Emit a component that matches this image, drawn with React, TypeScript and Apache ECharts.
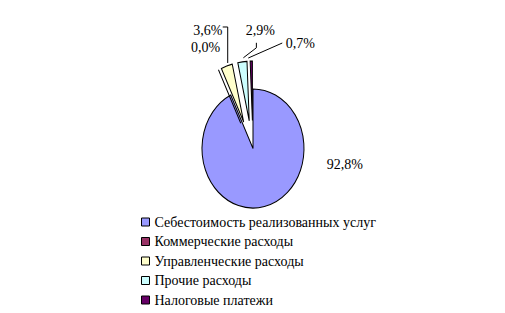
import React, { useEffect, useRef } from "react";
import * as echarts from "echarts";

const categories = [
  "Себестоимость реализованных услуг",
  "Коммерческие расходы",
  "Управленческие расходы",
  "Прочие расходы",
  "Налоговые платежи",
];
const values = [92.8, 0.0, 3.6, 2.9, 0.7];
const colors = ["#9999FF", "#993366", "#FFFFCC", "#CCFFFF", "#660066"];

// layout (not data)
const CX = 253;
const CY = 148.5;
const RX = 51;
const RY = 59.5;
const explode = [0, 28, 28, 28, 28];
const labelOffsets = [
  [80.5, -41.5],
  [-13, -22],
  [-19, -35],
  [18, -31],
  [49, -18],
];
const FAMILY = "Liberation Serif";
const FS = 14;

const fmt = (v: number) => v.toFixed(1).replace(".", ",") + "%";

export default function App() {
  const ref = useRef<HTMLDivElement>(null);
  useEffect(() => {
    if (!ref.current) return;
    const chart = echarts.init(ref.current, undefined, { renderer: "svg" });
    const total = values.reduce((a, b) => a + b, 0);
    const starts: number[] = [];
    let acc = 0;
    values.forEach((v) => {
      starts.push(acc);
      acc += v;
    });
    const toRad = (d: number) => (d * Math.PI) / 180;

    const series = categories.map((name, i) => {
      const a0 = (starts[i] / total) * 360;
      const a1 = ((starts[i] + values[i]) / total) * 360;
      const mid = (a0 + a1) / 2;
      const ex = explode[i] * Math.sin(toRad(mid));
      const ey = -explode[i] * Math.cos(toRad(mid));
      const ox = CX + ex + RX * Math.sin(toRad(mid));
      const oy = CY + ey - RY * Math.cos(toRad(mid));
      const lx = ox + labelOffsets[i][0];
      const ly = oy + labelOffsets[i][1];
      let leader: number[][] | null = null;
      if (i === 2) leader = [[ox + 1, oy - 3], [ox + 1, ly - 4], [lx + 15, ly - 4]];
      if (i === 3) leader = [[ox + 1, oy - 4], [lx - 4, ly + 17], [lx - 4, ly + 12]];
      if (i === 4) leader = [[ox - 3, oy - 3], [lx - 18, ly]];
      return {
        type: "custom",
        name,
        coordinateSystem: "none",
        itemStyle: { color: colors[i], borderColor: "#000", borderWidth: 1 },
        data: [[values[i]]],
        renderItem: () => {
          const children: any[] = [
            {
              type: "sector",
              x: CX + ex,
              y: CY + ey,
              scaleY: RY / RX,
              shape: {
                cx: 0,
                cy: 0,
                r0: 0,
                r: RX,
                startAngle: toRad(a0 - 90),
                endAngle: toRad(a1 - 90),
                clockwise: true,
              },
              style: { fill: colors[i], stroke: "#000", lineWidth: 1, strokeNoScale: true },
            },
            {
              type: "text",
              x: lx,
              y: ly,
              style: {
                text: fmt(values[i]),
                fontFamily: FAMILY,
                fontSize: FS,
                fill: "#000",
                align: "center",
                verticalAlign: "middle",
              },
            },
          ];
          if (leader) {
            children.push({
              type: "polyline",
              shape: { points: leader },
              style: { stroke: "#000", lineWidth: 1, fill: null },
            });
          }
          return { type: "group", children };
        },
      };
    });

    chart.setOption({
      animation: false,
      backgroundColor: "#fff",
      textStyle: { fontFamily: FAMILY, fontSize: FS, color: "#000" },
      legend: {
        orient: "vertical",
        left: 141,
        top: 215,
        padding: 0,
        itemWidth: 8,
        itemHeight: 8,
        itemGap: 5.5,
        icon: "rect",
        data: categories,
        itemStyle: { borderColor: "#000", borderWidth: 1 },
        textStyle: { fontFamily: FAMILY, fontSize: FS, color: "#000", lineHeight: 14 },
      },
      series,
    });
    return () => chart.dispose();
  }, []);
  return (
    <div
      ref={ref}
      style={{ position: "fixed", left: 0, top: 0, width: 505, height: 313, background: "#fff" }}
    />
  );
}
